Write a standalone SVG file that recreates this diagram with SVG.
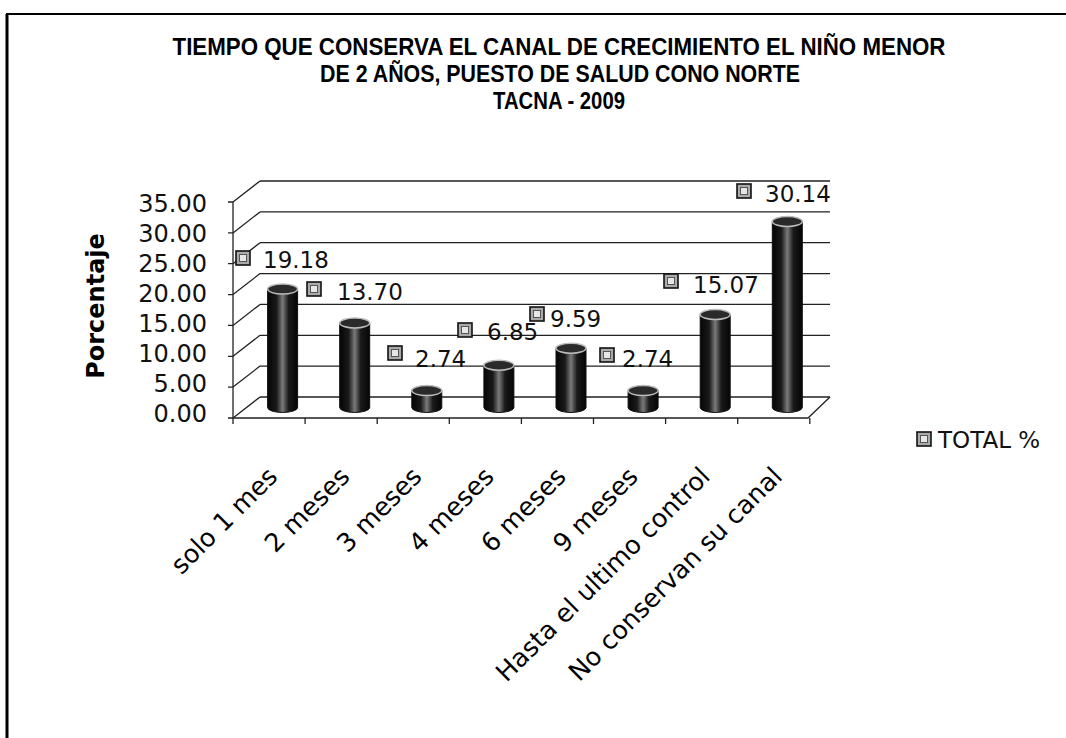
<svg xmlns="http://www.w3.org/2000/svg" width="1066" height="738" viewBox="0 0 1066 738">
<style>
.title{font-family:"Liberation Sans",Arial,sans-serif;font-weight:bold;font-size:23px;fill:#000;text-anchor:middle}
.ylab{font-family:"DejaVu Sans",sans-serif;font-size:24px;fill:#111;text-anchor:end}
.dlab{font-family:"DejaVu Sans",sans-serif;font-size:23px;fill:#111}
.cat{font-family:"DejaVu Sans",sans-serif;font-size:25.5px;fill:#000;text-anchor:end}
.axt{font-family:"DejaVu Sans",sans-serif;font-weight:bold;font-size:24px;fill:#000;text-anchor:middle}
.grid{stroke:#222;stroke-width:1.3;fill:none}
.ax{stroke:#222;stroke-width:1.3;fill:none}
.body{fill:url(#cyl);stroke:#111;stroke-width:1}
.top{fill:#2a2a2a;stroke:#bbb;stroke-width:1.5}
.mk{fill:#aaa;stroke:#111;stroke-width:1.6}
.mki{fill:#e6e6e6;stroke:#555;stroke-width:1}
</style>
<defs>
<linearGradient id="cyl" x1="0" y1="0" x2="1" y2="0">
<stop offset="0" stop-color="#050505"/>
<stop offset="0.3" stop-color="#1a1a1a"/>
<stop offset="0.5" stop-color="#7a7a7a"/>
<stop offset="0.7" stop-color="#1a1a1a"/>
<stop offset="1" stop-color="#050505"/>
</linearGradient>
<g id="marker">
<rect x="0" y="0" width="14" height="14" class="mk"/>
<rect x="3.5" y="3.5" width="7" height="7" class="mki"/>
</g>
</defs>
<rect width="1066" height="738" fill="#fff"/>
<g id="border">
<line x1="7" y1="14" x2="7" y2="738" stroke="#000" stroke-width="3"/>
<line x1="6" y1="14" x2="1066" y2="14" stroke="#000" stroke-width="2"/>
</g>
<g id="title">
<text class="title" x="559" y="55" textLength="773" lengthAdjust="spacingAndGlyphs">TIEMPO QUE CONSERVA EL CANAL DE  CRECIMIENTO EL NIÑO MENOR</text>
<text class="title" x="560" y="82" textLength="480" lengthAdjust="spacingAndGlyphs">DE 2 AÑOS, PUESTO DE SALUD CONO NORTE</text>
<text class="title" x="559" y="109" textLength="132" lengthAdjust="spacingAndGlyphs">TACNA - 2009</text>
</g>
<g id="connectors">
<path class="grid" d="M260 397H830 M260 366.1H830 M260 335.3H830 M260 304.4H830 M260 273.6H830 M260 242.7H830 M260 211.9H830 M260 181H830"/>
<path class="grid" d="M233 418L260 397 M233 387.1L260 366.1 M233 356.3L260 335.3 M233 325.4L260 304.4 M233 294.6L260 273.6 M233 263.7L260 242.7 M233 232.9L260 211.9 M233 202L260 181"/>
<path class="ax" d="M233 418H808L830 397"/>
<path class="ax" d="M233 202V418 M228 418H233 M228 387.1H233 M228 356.3H233 M228 325.4H233 M228 294.6H233 M228 263.7H233 M228 232.9H233 M228 202H233"/>
<path class="ax" d="M233 418V424 M305.1 418V424 M377.2 418V424 M449.3 418V424 M521.4 418V424 M593.5 418V424 M665.6 418V424 M737.7 418V424 M809.8 418V424"/>
</g>
<g id="yaxis">
<text class="ylab" x="207" y="211.5">35.00</text>
<text class="ylab" x="207" y="241.5">30.00</text>
<text class="ylab" x="207" y="271.5">25.00</text>
<text class="ylab" x="207" y="301.5">20.00</text>
<text class="ylab" x="207" y="331.5">15.00</text>
<text class="ylab" x="207" y="361.5">10.00</text>
<text class="ylab" x="207" y="391.5">5.00</text>
<text class="ylab" x="207" y="421.5">0.00</text>
<text class="axt" transform="translate(104 306) rotate(-90)">Porcentaje</text>
</g>
<g id="bar1">
<path class="body" d="M267.6 289.1V407.5A15 5 0 0 0 297.6 407.5V289.1Z"/>
<ellipse class="top" cx="282.6" cy="289.1" rx="15" ry="5"/>
</g>
<g id="bar2">
<path class="body" d="M339.7 323V407.5A15 5 0 0 0 369.7 407.5V323Z"/>
<ellipse class="top" cx="354.7" cy="323" rx="15" ry="5"/>
</g>
<g id="bar3">
<path class="body" d="M411.8 390.6V407.5A15 5 0 0 0 441.8 407.5V390.6Z"/>
<ellipse class="top" cx="426.8" cy="390.6" rx="15" ry="5"/>
</g>
<g id="bar4">
<path class="body" d="M483.9 365.2V407.5A15 5 0 0 0 513.9 407.5V365.2Z"/>
<ellipse class="top" cx="498.9" cy="365.2" rx="15" ry="5"/>
</g>
<g id="bar5">
<path class="body" d="M556 348.3V407.5A15 5 0 0 0 586 407.5V348.3Z"/>
<ellipse class="top" cx="571" cy="348.3" rx="15" ry="5"/>
</g>
<g id="bar6">
<path class="body" d="M628.1 390.6V407.5A15 5 0 0 0 658.1 407.5V390.6Z"/>
<ellipse class="top" cx="643.1" cy="390.6" rx="15" ry="5"/>
</g>
<g id="bar7">
<path class="body" d="M700.2 314.5V407.5A15 5 0 0 0 730.2 407.5V314.5Z"/>
<ellipse class="top" cx="715.2" cy="314.5" rx="15" ry="5"/>
</g>
<g id="bar8">
<path class="body" d="M772.3 221.5V407.5A15 5 0 0 0 802.3 407.5V221.5Z"/>
<ellipse class="top" cx="787.3" cy="221.5" rx="15" ry="5"/>
</g>
<g id="labels">
<use href="#marker" x="236" y="251"/><text class="dlab" x="263" y="268">19.18</text>
<use href="#marker" x="307" y="282"/><text class="dlab" x="337" y="300">13.70</text>
<use href="#marker" x="388" y="346"/><text class="dlab" x="415" y="367">2.74</text>
<use href="#marker" x="458" y="323"/><text class="dlab" x="487" y="340">6.85</text>
<use href="#marker" x="530" y="307"/><text class="dlab" x="550" y="327">9.59</text>
<use href="#marker" x="600" y="348"/><text class="dlab" x="622" y="367">2.74</text>
<use href="#marker" x="664" y="274"/><text class="dlab" x="693" y="293">15.07</text>
<use href="#marker" x="737" y="184"/><text class="dlab" x="765" y="202">30.14</text>
</g>
<g id="categories">
<text class="cat" transform="translate(279 478) rotate(-45)">solo 1 mes</text>
<text class="cat" transform="translate(351.1 478) rotate(-45)">2 meses</text>
<text class="cat" transform="translate(423.2 478) rotate(-45)">3 meses</text>
<text class="cat" transform="translate(495.3 478) rotate(-45)">4 meses</text>
<text class="cat" transform="translate(567.4 478) rotate(-45)">6 meses</text>
<text class="cat" transform="translate(639.5 478) rotate(-45)">9 meses</text>
<text class="cat" transform="translate(711.6 478) rotate(-45)">Hasta el ultimo control</text>
<text class="cat" transform="translate(783.7 478) rotate(-45)">No conservan su canal</text>
</g>
<g id="legend">
<use href="#marker" x="917" y="432"/>
<text class="dlab" x="938" y="447.5">TOTAL %</text>
</g>
</svg>
